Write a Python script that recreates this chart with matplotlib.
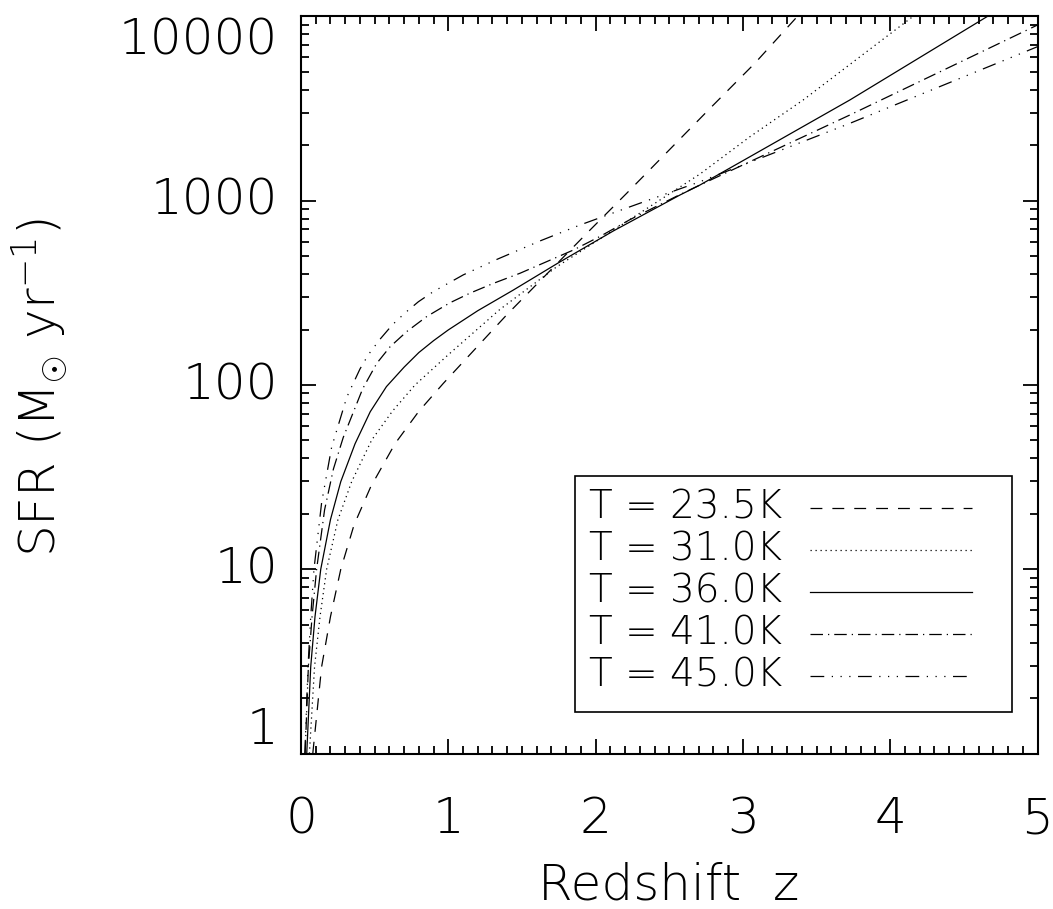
import matplotlib
matplotlib.use('Agg')
import matplotlib.pyplot as plt
from matplotlib import font_manager
from matplotlib.ticker import LogLocator, MultipleLocator, NullFormatter
from matplotlib.patches import Rectangle
import matplotlib.transforms as mtransforms

# thin wide sans to mimic the IDL/Hershey look (DejaVu ExtraLight if present)
fp = font_manager.FontProperties(family='DejaVu Sans', weight=200)
path = font_manager.findfont(fp)
if 'ExtraLight' in path:
    fam, wt = 'DejaVu Sans', 200
else:
    fam, wt = 'Roboto', 300
plt.rcParams['font.family'] = [fam, 'DejaVu Sans']
plt.rcParams['font.weight'] = wt
plt.rcParams['mathtext.fontset'] = 'custom'
plt.rcParams['mathtext.rm'] = fam + ':weight=' + str(wt)
plt.rcParams['mathtext.it'] = fam + ':weight=' + str(wt)

# values (redshift, SFR in Msun/yr)
z_235 = [0.08, 0.14, 0.2, 0.27, 0.36, 0.473, 0.638, 0.8, 0.966,
         1.396, 1.962, 2.211, 2.788, 3.082, 3.37]
sfr_235 = [1.0, 2.96, 5.53, 10, 17.4, 28, 48, 72, 102,
           240, 693, 1097, 3236, 5580, 10000]

z_310 = [0.057, 0.092, 0.129, 0.174, 0.25, 0.344, 0.48, 0.62, 0.774,
         1.0, 1.35, 1.736, 2.2, 2.709, 3.048, 3.41, 4.155]
sfr_310 = [1.0, 2.96, 5.53, 10, 18.5, 29.9, 50.3, 72, 100,
           146, 257, 438, 760, 1396, 2225, 3523, 10000]

z_360 = [0.039, 0.066, 0.095, 0.134, 0.2, 0.27, 0.367, 0.47, 0.58, 0.7,
         0.8, 0.9, 1.0, 1.2, 1.44, 1.747, 2.12, 2.3, 2.573, 2.709,
         3.048, 3.727, 4.66]
sfr_360 = [1.0, 2.96, 5.53, 10, 18.6, 29.9, 48, 71.6, 98, 125,
           150, 174, 199, 253, 327, 460, 685, 819, 1074, 1217,
           1733, 3523, 10000]

z_410 = [0.028, 0.05, 0.075, 0.106, 0.16, 0.22, 0.287, 0.419, 0.514, 0.604,
         0.718, 0.853, 1.01, 1.147, 1.306, 1.487, 1.668, 1.849, 2.03, 2.234,
         2.573, 2.709, 3.727, 5.0]
sfr_410 = [1.0, 2.96, 5.53, 10, 21, 35, 52, 95.5, 131, 161,
           195, 235, 279, 315, 356, 404, 467, 540, 640, 790,
           1080, 1217, 2920, 8980]

z_450 = [0.026, 0.0475, 0.066, 0.088, 0.14, 0.208, 0.311, 0.4, 0.457, 0.536,
         0.62, 0.706, 0.797, 0.898, 1.102, 1.329, 1.623, 1.894, 2.234, 2.573,
         2.709, 3.727, 5.0]
sfr_450 = [1.0, 2.96, 5.53, 10, 23, 46, 86, 122, 146, 177,
           212, 246, 283, 321, 396, 480, 605, 738, 927, 1160,
           1268, 2630, 6850]

labels = ['T = 23.5K', 'T = 31.0K', 'T = 36.0K', 'T = 41.0K', 'T = 45.0K']
ytick_vals = [1, 10, 100, 1000, 10000]
ytick_labels = ['1', '10', '100', '1000', '10000']
xtick_vals = [0, 1, 2, 3, 4, 5]
xtick_labels = ['0', '1', '2', '3', '4', '5']

dash_styles = [(0, (9.5, 8)),
               (0, (1, 3)),
               '-',
               (0, (10, 4, 1, 4)),
               (0, (11, 6, 1, 6, 1, 6, 1, 6))]

fig = plt.figure(figsize=(10.53, 9.09), dpi=100)
ax = fig.add_axes([301 / 1053, (909 - 753.6) / 909, 736.5 / 1053, 737.2 / 909])

series = [(z_235, sfr_235), (z_310, sfr_310), (z_360, sfr_360),
          (z_410, sfr_410), (z_450, sfr_450)]
for (zz, ss), ls in zip(series, dash_styles):
    ax.plot(zz, ss, color='black', lw=0.9, linestyle=ls)

ax.set_yscale('log')
ax.set_xlim(0, 5)
ax.set_ylim(1, 10000)
ax.set_yticks(ytick_vals)
ax.yaxis.set_major_formatter(NullFormatter())
ax.yaxis.set_minor_locator(LogLocator(base=10, subs=range(2, 10)))
ax.yaxis.set_minor_formatter(NullFormatter())
ax.set_xticks(xtick_vals, xtick_labels)
ax.xaxis.set_minor_locator(MultipleLocator(0.1))

ax.tick_params(which='both', direction='in', top=True, right=True, width=1.3,
               labelsize=36)
ax.tick_params(which='major', length=10.5)
ax.tick_params(which='minor', length=5.5)
ax.tick_params(axis='x', pad=30)
for sp in ax.spines.values():
    sp.set_linewidth(1.5)

# y tick labels: end labels kept inside the axis range like IDL does
trans = mtransforms.blended_transform_factory(ax.transAxes, ax.transData)
for v, lab in zip(ytick_vals, ytick_labels):
    va = 'center'
    if v == max(ytick_vals):
        va = 'top'
    elif v == min(ytick_vals):
        va = 'bottom'
    ax.text(-0.031, v, lab, transform=trans, ha='right', va=va, fontsize=36)

fig.text(40 / 1053, 1 - 388 / 909, r'SFR (M$_{\odot}$ yr$^{-1}$)', rotation=90,
         ha='center', va='center', fontsize=36)
fig.text(669 / 1053, 1 - 885 / 909, 'Redshift  z', ha='center', va='center',
         fontsize=36)

# legend box drawn by hand
ax.add_patch(Rectangle((0.372, 0.0564), 0.593, 0.3202, transform=ax.transAxes,
                       fill=False, lw=1.2, edgecolor='black'))
row_y = [0.3332 - 0.05697 * i for i in range(5)]
for yy, lab, ls in zip(row_y, labels, dash_styles):
    ax.text(0.391, yy, lab, transform=ax.transAxes, ha='left', va='center',
            fontsize=28)
    ax.plot([0.691, 0.911], [yy, yy], transform=ax.transAxes, color='black',
            lw=0.9, linestyle=ls)

fig.savefig('out.png', dpi=100)
